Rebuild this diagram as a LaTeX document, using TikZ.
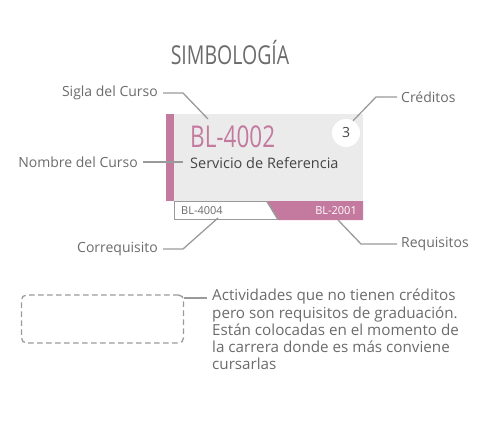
\documentclass[tikz,border=0pt]{standalone}
\usepackage{fontspec}
\setmainfont{Open Sans}
\newfontfamily\condfont[FakeStretch=0.75]{Open Sans}
\definecolor{rosa}{HTML}{C47A9F}
\definecolor{fondo}{HTML}{EBEBEB}
\definecolor{linea}{HTML}{9A9A9A}
\definecolor{texto}{HTML}{6B6B6B}
\definecolor{oscuro}{HTML}{444444}
\begin{document}
\begin{tikzpicture}[x=1pt, y=-1pt,
  conn/.style={draw=linea, line width=1.3pt},
  lbl/.style={text=texto, inner sep=0pt, font=\fontsize{14}{16}\selectfont}]
\useasboundingbox (0,0) rectangle (486,438);
\node[text=texto, font=\condfont\fontsize{26}{26}\selectfont] (titulo) at (230,53) {SIMBOLOG\'IA};
% tarjeta
\fill[fondo] (174,114) rectangle (363,201);
\fill[rosa] (166,114) rectangle (174,201);
\fill[rosa] (267,201) -- (363,201) -- (363,220) -- (278,220) -- cycle;
\draw[linea, line width=1pt] (267,201.5) -- (174.5,201.5) -- (174.5,219.5) -- (278,219.5);
\draw[linea, line width=1.5pt] (267,201.5) -- (278,219.5);
\node[anchor=base west, inner sep=0pt, text=rosa, font=\condfont\fontsize{30}{30}\selectfont] (sigla) at (190,148) {BL-4002};
\node[anchor=base west, inner sep=0pt, text=oscuro, font=\fontsize{14.5}{17}\selectfont] (nombre) at (190,168) {Servicio de Referencia};
\node[circle, fill=white, minimum size=28pt, inner sep=0pt, text=oscuro, font=\fontsize{14}{16}\selectfont] (creditos) at (346,133) {3};
\node[anchor=west, inner sep=0pt, text=texto, font=\fontsize{11}{13}\selectfont] (correq) at (181,211) {BL-4004};
\node[anchor=east, inner sep=0pt, text=white, font=\fontsize{11}{13}\selectfont] (req) at (357,211) {BL-2001};
% etiquetas
\node[lbl, anchor=east] (lSigla) at (158,93) {Sigla del Curso};
\node[lbl, anchor=east] (lNombre) at (138,162) {Nombre del Curso};
\node[lbl, anchor=east] (lCorreq) at (158,249) {Correquisito};
\node[lbl, anchor=west] (lCred) at (401,97) {Cr\'editos};
\node[lbl, anchor=west] (lReq) at (401,244) {Requisitos};
\coordinate (pSigla) at (208,119);
\coordinate (pNombre) at (183,162);
\coordinate (pCorreq) at (218,218);
\coordinate (pReq) at (338,220);
\draw[conn] ([xshift=5pt]lSigla.east) -- ++(20,0) -- (pSigla);
\draw[conn] ([xshift=5pt]lNombre.east) -- (pNombre);
\draw[conn] ([xshift=5pt]lCorreq.east) -- ++(20,0) -- (pCorreq);
\draw[conn] ([xshift=-4pt]lCred.west) -- ++(-21,0) -- (creditos.60);
\draw[conn] ([xshift=-4pt]lReq.west) -- ++(-36,0) -- (pReq);
% actividades
\node[draw=linea, dashed, dash pattern=on 5.5pt off 3.5pt, line width=1.3pt, rounded corners=5pt,
  minimum width=162pt, minimum height=48pt] (libre) at (102.5,319) {};
\node[lbl, anchor=north west, align=left, font=\fontsize{15.2}{17.2}\selectfont] (desc) at (212,289)
  {Actividades que no tienen cr\'editos\\pero son requisitos de graduaci\'on.\\Est\'an colocadas en el momento de\\la carrera donde es m\'as conviene\\cursarlas};
\draw[conn] ([yshift=21pt]libre.east) -- ++(23,0);
\end{tikzpicture}
\end{document}
